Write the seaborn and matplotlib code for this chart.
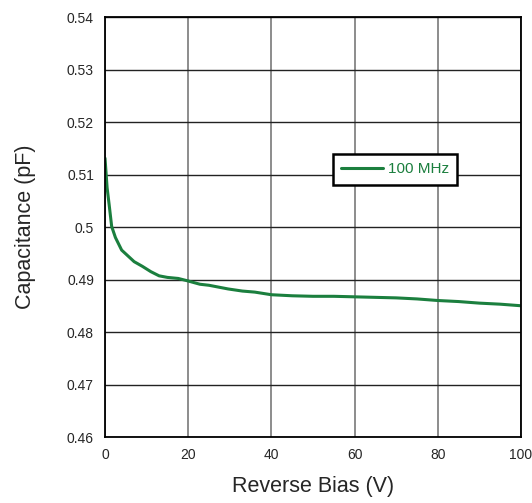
import matplotlib
matplotlib.use("Agg")
import matplotlib.pyplot as plt
import seaborn as sns
import pandas as pd

# Capacitance vs reverse bias at 100 MHz
bias_v = [0, 0.5, 1, 1.6, 2.5, 4, 5.5, 7, 9, 11, 13, 15, 17.6, 19.6, 22.8, 25,
          29.6, 33, 36, 40, 45, 50, 55, 60, 65, 70, 75, 80, 85, 90, 95, 100]
cap_pf = [0.5131, 0.5075, 0.5042, 0.5001, 0.4980, 0.4956, 0.4945, 0.4934,
          0.4925, 0.4915, 0.4907, 0.4904, 0.4902, 0.4898, 0.4891, 0.4889,
          0.4882, 0.4878, 0.4876, 0.4871, 0.4869, 0.4868, 0.4868, 0.4867,
          0.4866, 0.4865, 0.4863, 0.4860, 0.4858, 0.4855, 0.4853, 0.4850]
series_label = "100 MHz"
x_ticks = [0, 20, 40, 60, 80, 100]
y_ticks = [0.46, 0.47, 0.48, 0.49, 0.5, 0.51, 0.52, 0.53, 0.54]
y_tick_labels = ["0.46", "0.47", "0.48", "0.49", "0.5", "0.51", "0.52", "0.53", "0.54"]

sns.set_style("white")
plt.rcParams["font.family"] = ["Liberation Sans", "DejaVu Sans"]

df = pd.DataFrame({"bias": bias_v, "cap": cap_pf, "freq": series_label})
green = "#1b7f3e"

fig = plt.figure(figsize=(5.32, 5.03), dpi=100)
ax = fig.add_axes([0.1974, 0.1312, 0.7819, 0.835])

sns.lineplot(data=df, x="bias", y="cap", hue="freq", palette=[green],
             linewidth=2.2, ax=ax)

ax.set_xlim(0, 100)
ax.set_ylim(0.46, 0.54)
ax.set_xticks(x_ticks)
ax.set_yticks(y_ticks)
ax.set_yticklabels(y_tick_labels)
ax.tick_params(axis="both", labelsize=10, direction="in", length=4,
               width=1.2, color="black", pad=8)
ax.xaxis.grid(True, color="#6e6e6e", linewidth=1.1)
ax.yaxis.grid(True, color="#222222", linewidth=1.0)
ax.set_axisbelow(True)
for s in ax.spines.values():
    s.set_color("black")
    s.set_linewidth(1.3)

ax.set_xlabel("Reverse Bias (V)", fontsize=15.5, labelpad=10)
ax.set_ylabel("Capacitance (pF)", fontsize=15.5, labelpad=22)

leg = ax.legend(loc="center left", bbox_to_anchor=(0.548, 0.637),
                borderaxespad=0, frameon=True, fancybox=False, fontsize=11,
                handlelength=2.7, handletextpad=0.35, borderpad=0.55,
                labelcolor=green)
leg.get_frame().set_edgecolor("black")
leg.get_frame().set_linewidth(1.8)
leg.get_frame().set_alpha(1)

fig.savefig("out.png", dpi=100)
